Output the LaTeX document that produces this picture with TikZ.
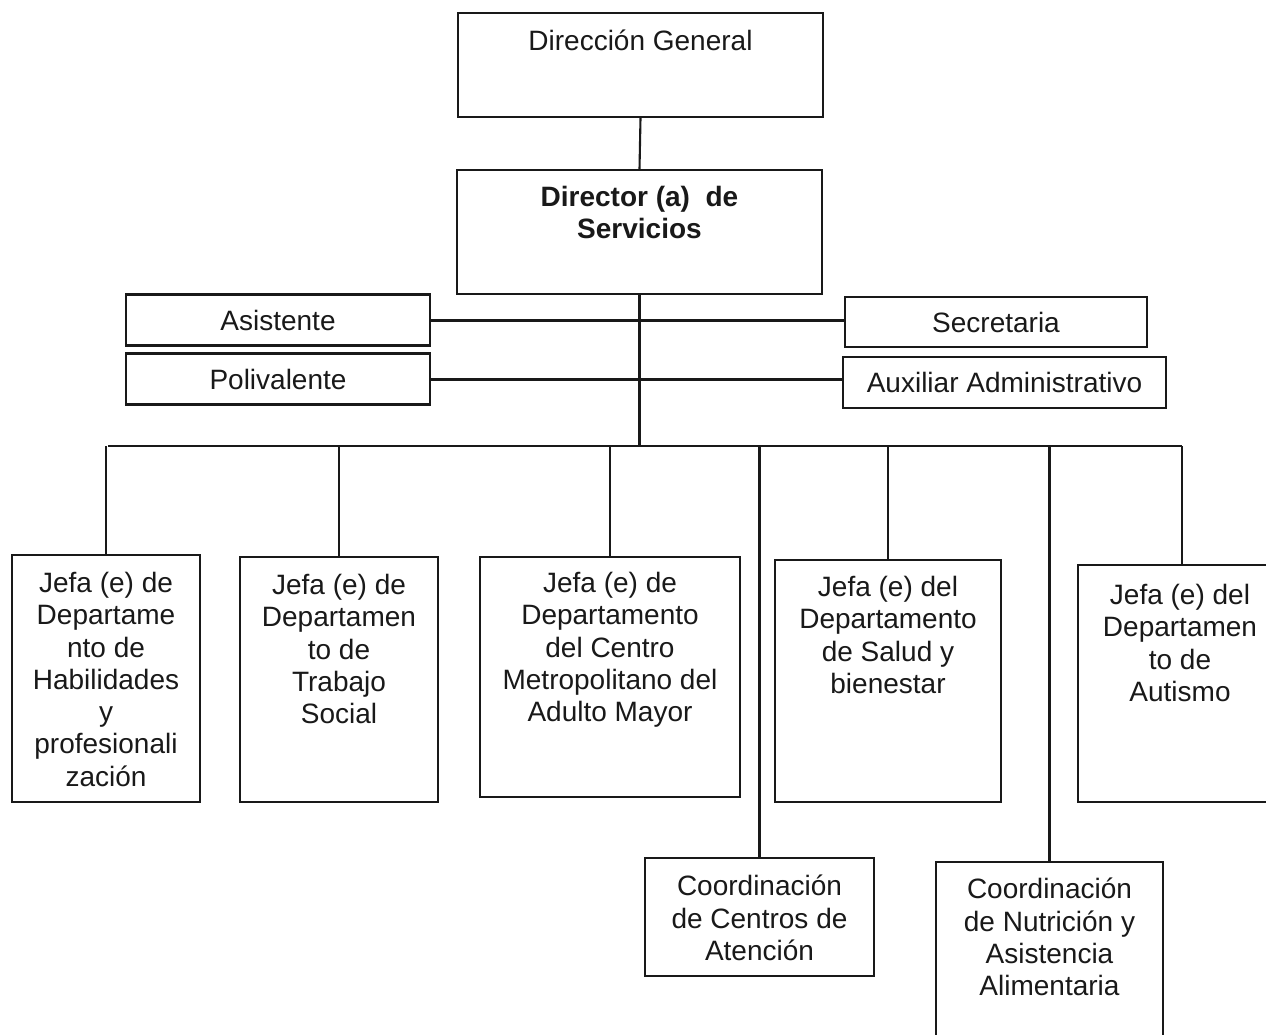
\documentclass[tikz,border=0pt]{standalone}
\usepackage{fontspec}
\setmainfont{Liberation Sans}
\begin{document}
\begin{tikzpicture}[x=1pt,y=-1pt,
  box/.style={draw=black!90, line width=2.1pt, rectangle, inner sep=0pt},
  txt/.style={font=\fontsize{28}{32.3}\selectfont, text=black!90},
  lbl/.style={txt, align=center, inner sep=0pt, anchor=north},
  con/.style={line width=2.1pt, draw=black!90},
  con2/.style={line width=3pt, draw=black!90}]
\useasboundingbox (0,0) rectangle (1266,1035);
\clip (0,0) rectangle (1266,1035);
\fill[white] (0,0) rectangle (1266,1035);

% top boxes
\node[box, minimum width=365pt, minimum height=104pt] (dg) at (640.5,65) {};
\node[lbl, yshift=-18pt] (dgt) at (dg.north) {Dirección General};
\node[box, minimum width=365pt, minimum height=124pt] (ds) at (639.5,232) {};
\node[lbl, yshift=-17pt, font=\fontsize{28}{32.3}\selectfont\bfseries] (dst) at (ds.north) {Director (a)\ \ de\\Servicios};

% staff boxes
\node[box, txt, minimum width=304pt, minimum height=51pt] (as) at (278,320) {Asistente};
\node[box, txt, minimum width=304pt, minimum height=51pt] (pv) at (278,379) {Polivalente};
\node[box, txt, minimum width=302pt, minimum height=50pt] (se) at (996,322) {Secretaria};
\node[box, txt, minimum width=323pt, minimum height=51pt] (ax) at (1004.5,382.5) {Auxiliar Administrativo};

% department boxes
\node[box, minimum width=188pt, minimum height=247pt] (b1) at (106,678.5) {};
\node[lbl, yshift=-18pt] (b1t) at (b1.north) {Jefa (e) de\\Departame\\nto de\\Habilidades\\y\\profesionali\\zación};
\node[box, minimum width=198pt, minimum height=245pt] (b2) at (339,679.5) {};
\node[lbl, yshift=-18pt] (b2t) at (b2.north) {Jefa (e) de\\Departamen\\to de\\Trabajo\\Social};
\node[box, minimum width=260pt, minimum height=240pt] (b3) at (610,677) {};
\node[lbl, yshift=-16pt] (b3t) at (b3.north) {Jefa (e) de\\Departamento\\del Centro\\Metropolitano del\\Adulto Mayor};
\node[box, minimum width=226pt, minimum height=242pt] (b4) at (888,681) {};
\node[lbl, yshift=-17pt] (b4t) at (b4.north) {Jefa (e) del\\Departamento\\de Salud y\\bienestar};
\node[box, minimum width=208pt, minimum height=237pt] (b5) at (1182,683.5) {};
\node[lbl, yshift=-19pt] (b5t) at (1180,565) {Jefa (e) del\\Departamen\\to de\\Autismo};

% coordination boxes
\node[box, minimum width=229pt, minimum height=118pt] (c1) at (759.5,917) {};
\node[lbl, yshift=-18pt] (c1t) at (c1.north) {Coordinación\\de Centros de\\Atención};
\node[box, minimum width=227pt, minimum height=200pt] (c2) at (1049.5,962) {};
\node[lbl, yshift=-17pt] (c2t) at (c2.north) {Coordinación\\de Nutrición y\\Asistencia\\Alimentaria};

% connectors
\draw[con] (dg.south) -- (ds.north);
\draw[con2] (as.east) -- (as.east -| se.west);
\draw[con2] (pv.east) -- (pv.east -| ax.west);
\coordinate (busL) at (108,446);
\coordinate (busR) at (1182,446);
\draw[con] (ds.south) -- (ds.south |- busL);
\draw[con] (busL) -- (busR);
\draw[con] (b1.north |- busL) -- (b1.north);
\draw[con] (b2.north |- busL) -- (b2.north);
\draw[con] (b3.north |- busL) -- (b3.north);
\draw[con] (b4.north |- busL) -- (b4.north);
\draw[con] (b5.north |- busL) -- (b5.north);
\draw[con] (c1.north |- busL) -- (c1.north);
\draw[con] (c2.north |- busL) -- (c2.north);
\end{tikzpicture}
\end{document}
